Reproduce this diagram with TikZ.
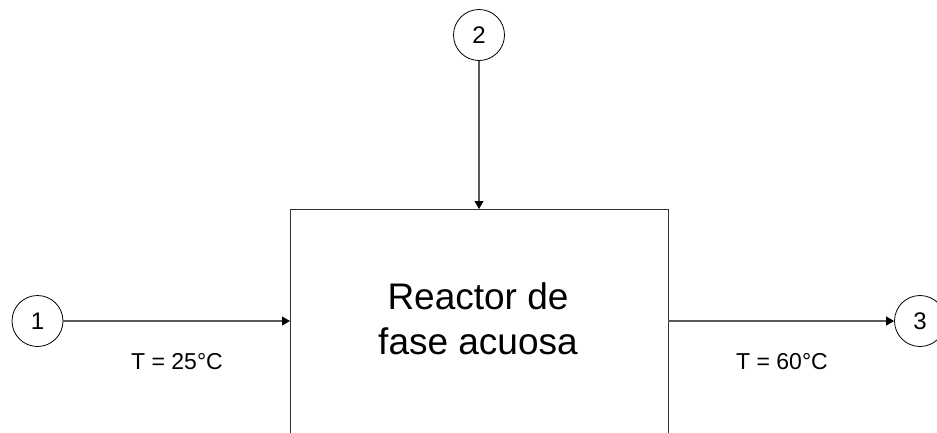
\documentclass[tikz,border=0pt]{standalone}
\usepackage{fontspec}
\setmainfont{Liberation Sans}
\usetikzlibrary{arrows.meta}
\begin{document}
\begin{tikzpicture}[x=1pt,y=-1pt,
  stream/.style={circle,draw=black,line width=0.8pt,minimum size=51pt,inner sep=0pt,font=\fontsize{24}{28}\selectfont},
  flow/.style={draw=black!65,line width=1.1pt,-{Triangle[length=8pt,width=9pt,fill=black,color=black]}},
  templabel/.style={font=\fontsize{23}{27}\selectfont},
  unit/.style={draw=black!80,line width=1pt}]
  \useasboundingbox (0,0) rectangle (937,432);
  \clip (0,0) rectangle (937,432);
  % reactor block (runs past the lower edge)
  \draw[unit] (290,450) -- (290,209) -- (668,209) -- (668,450);
  \coordinate (rin) at (290,321);
  \coordinate (rout) at (668,321);
  \coordinate (rtop) at (479,209);
  \node[font=\fontsize{37}{45}\selectfont,align=center] (lbl) at (478,319) {Reactor de\\fase acuosa};
  % streams
  \node[stream] (s1) at (37.5,321) {1};
  \node[stream] (s2) at (479,35) {2};
  \node[stream] (s3) at (920,321) {3};
  \draw[flow] (s1) -- (rin);
  \draw[flow] (s2) -- (rtop);
  \draw[flow] (rout) -- (s3);
  \node[templabel] (t1) at (177,362) {T = 25°C};
  \node[templabel] (t3) at (782,362) {T = 60°C};
\end{tikzpicture}
\end{document}
